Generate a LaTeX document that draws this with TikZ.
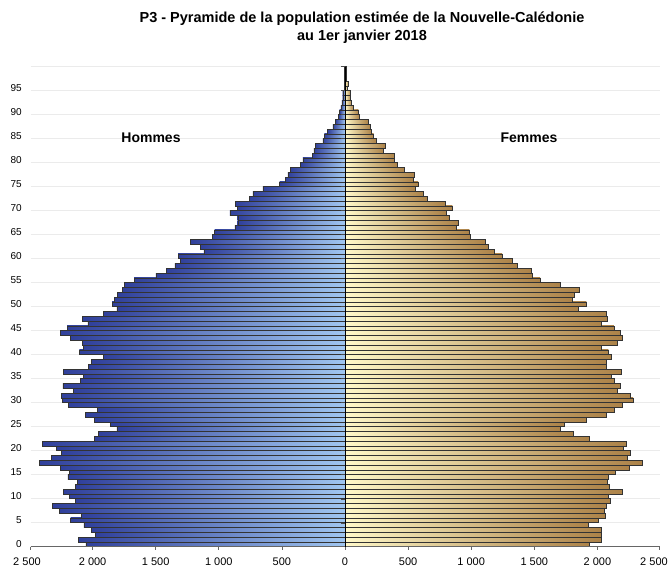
\documentclass[tikz,border=0pt]{standalone}
\usepackage{fontspec}
\setmainfont{Liberation Sans}
\definecolor{hfonce}{RGB}{48,64,155}
\definecolor{hclair}{RGB}{160,198,240}
\definecolor{fclair}{RGB}{255,248,200}
\definecolor{ffonce}{RGB}{172,130,72}
\tikzset{
  >=latex,
  barre/.style={draw=black!80,line width=.45pt},
  grille/.style={black!8,line width=.9pt},
  graduation/.style={font=\fontsize{10}{11}\selectfont,inner sep=1pt},
  valeur/.style={font=\fontsize{11}{12}\selectfont,inner sep=1pt},
  sexe/.style={font=\bfseries\fontsize{14}{16}\selectfont}
}
% effectifs par age, de 0 a 99 ans
\def\hommes{2053,2113,1978,2012,2070,2175,2088,2262,2320,2138,
  2183,2233,2136,2122,2196,2183,2254,2420,2328,2249,
  2285,2399,1986,1954,1807,1859,1986,2057,1965,2191,
  2238,2249,2152,2236,2096,2072,2230,2033,2007,1915,
  2104,2072,2083,2178,2254,2201,2038,2083,1915,1807,
  1846,1828,1802,1762,1749,1670,1499,1415,1349,1302,
  1323,1118,1144,1223,1052,1034,873,850,850,913,
  852,868,760,729,650,518,471,452,434,352,
  334,260,247,237,176,163,137,97,76,50,
  42,32,24,18,18,5,3,3,3,10}
\def\femmes{1938,2030,2030,2030,1928,2004,2065,2057,2072,2104,
  2086,2199,2093,2080,2086,2141,2251,2354,2238,2259,
  2204,2228,1938,1807,1702,1738,1912,2072,2133,2196,
  2283,2259,2157,2180,2133,2112,2191,2072,2072,2112,
  2086,2033,2154,2199,2183,2130,2033,2078,2072,1849,
  1912,1802,1817,1857,1702,1546,1486,1475,1362,1323,
  1244,1186,1131,1115,995,985,878,897,829,802,
  850,792,655,618,560,579,539,550,471,416,
  392,392,305,321,245,226,210,202,181,113,
  105,68,53,45,45,21,29,8,8,13}

\begin{document}
\begin{tikzpicture}[x=1pt,y=-1pt]
  \useasboundingbox (0,0) rectangle (670,569);
  \node[font=\bfseries\fontsize{14.5}{18}\selectfont,align=center] (titre) at (362,28)
    {P3 - Pyramide de la population estimée de la Nouvelle-Calédonie\\au 1er janvier 2018};
  % grille
  \foreach \k in {0,5,...,100}
    \draw[grille] (30.5,{546.7-4.8*\k}) -- (659.5,{546.7-4.8*\k});
  \foreach \k in {0,5,...,95}
    \node[graduation,anchor=east] (age\k) at (23,{543.7-4.8*\k}) {\k};
  % barres
  \foreach \v [count=\n from 0] in \hommes
    \shadedraw[barre,left color=hfonce,right color=hclair]
      ({345-.1262*\v},{546.7-4.8*(\n+1)}) rectangle (345,{546.7-4.8*\n});
  \foreach \v [count=\n from 0] in \femmes
    \shadedraw[barre,left color=fclair,right color=ffonce]
      (345,{546.7-4.8*(\n+1)}) rectangle ({345+.1262*\v},{546.7-4.8*\n});
  % axes
  \draw[black!60,line width=.7pt] (30.5,546.7) -- (659.5,546.7);
  \foreach \k/\t in {-4/2 000,-3/1 500,-2/1 000,-1/500,0/0,
                     1/500,2/1 000,3/1 500,4/2 000}{
    \draw[black!60,line width=.7pt] ({345+63.1*\k},546.7) -- ({345+63.1*\k},550);
    \node[valeur] (val\k) at ({345+63.1*\k},561.5) {\t};
  }
  \draw[black!60,line width=.7pt] (30.5,546.7) -- (30.5,550)
    (659.5,546.7) -- (659.5,550);
  \node[valeur] (val-5) at (27,561.5) {2 500};
  \node[valeur] (val5) at (654,561.5) {2 500};
  \foreach \k in {5,10,...,100}
    \draw[black!70] (341,{546.7-4.8*\k}) -- (345,{546.7-4.8*\k});
  \draw[black,line width=.9pt] (345,66.7) -- (345,546.7);
  \node[sexe] (hommes) at (151,138) {Hommes};
  \node[sexe] (femmes) at (529,138) {Femmes};
\end{tikzpicture}
\end{document}
